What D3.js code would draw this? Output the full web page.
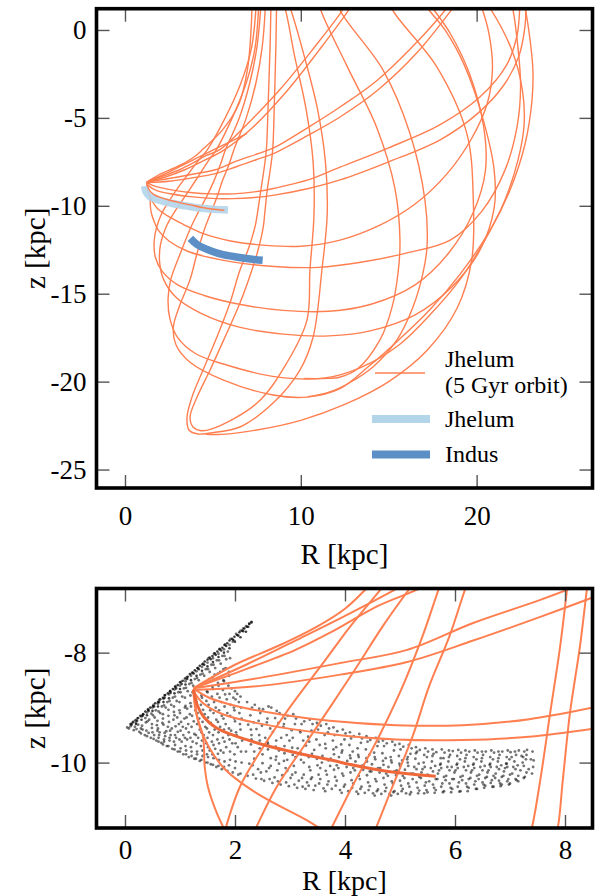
<!DOCTYPE html>
<html>
<head>
<meta charset="utf-8">
<script src="https://cdn.jsdelivr.net/npm/d3@7"></script>
<style>
  body { margin: 0; background: #fff; }
  text { font-family: "Liberation Serif", "Times New Roman", serif; }
</style>
</head>
<body>
<div id="chart"></div>
<script>
// ---- data (kpc) ----
var rTicksTop = [0, 10, 20];
var zTicksTop = [0, -5, -10, -15, -20, -25];
var rTicksZoom = [0, 2, 4, 6, 8];
var zTicksZoom = [-8, -10];

// orbit passes, [R, z]
var orbitTop = [
  [[1.24,-8.65],[2.0,-8.2],[2.8,-7.85],[3.5,-7.5],[4.0,-7.17],[4.42,-6.79],[5.56,-5.67],[6.5,-4.15],[6.98,-2.16],[7.17,0],[7.22,1.25],[7.24,2.0]],
  [[1.24,-8.65],[2.2,-8.22],[3.2,-7.73],[4.1,-7.28],[5.0,-6.83],[6.0,-6.35],[6.94,-5.88]],
  [[1.24,-8.65],[2.2,-8.3],[3.1,-7.95],[3.8,-7.6],[4.6,-7.15],[5.42,-6.79],[7.0,-5.3],[8.8,-3.4],[10.6,-1.2],[12.45,1.25],[12.8,2.0]],
  [[1.24,-8.65],[2.3,-8.36],[3.4,-7.95],[4.5,-7.42],[5.6,-6.85],[7.2,-5.6],[9.1,-3.6],[11.0,-1.2],[12.8,1.25],[13.2,2.0]],
  [[1.24,-8.65],[2.5,-8.45],[3.91,-8.19],[5.13,-7.95],[6.33,-7.46],[7.55,-7.04],[8.51,-6.68],[10.4,-5.55],[12.23,-4.38],[14.3,-2.9],[16.4,-0.9],[18.3,1.25],[18.8,2.0]],
  [[1.26,-8.68],[2.5,-8.6],[3.91,-8.4],[5.13,-8.17],[6.33,-7.78],[7.55,-7.35],[8.51,-7.0],[10.4,-6.0],[12.23,-4.95],[14.4,-3.4],[16.6,-1.3],[18.65,1.25],[19.2,2.0]],
  [[1.24,-8.65],[1.53,-8.82],[2.02,-8.97],[2.81,-9.12],[3.72,-9.24],[4.93,-9.32],[6.14,-9.32],[7.35,-9.21],[8.5,-9.0],[10.5,-8.5],[12.23,-7.8],[15.0,-6.7],[17.9,-5.4],[20.2,-3.8],[21.7,-2.0],[22.3,-0.3],[22.45,1.25],[22.45,2.0]],
  [[1.26,-8.72],[1.41,-8.91],[1.78,-9.12],[2.5,-9.3],[3.72,-9.48],[4.93,-9.58],[6.14,-9.59],[7.35,-9.53],[8.5,-9.39],[10.5,-9.0],[12.23,-8.53],[15.0,-7.5],[17.9,-6.26],[20.0,-4.8],[21.5,-3.2],[22.4,-1.5],[22.75,0.2],[22.8,1.25],[22.75,2.0]],
  [[1.26,-8.7],[1.36,-9.35],[1.78,-10.08],[2.4,-10.56],[3.31,-11.05],[4.5,-11.6],[6.0,-12.0],[8.0,-12.25],[10.0,-12.3],[12.23,-11.95],[14.5,-11.1],[16.5,-9.9],[18.3,-8.2],[19.7,-6.2],[20.6,-4.2],[20.9,-2.2],[20.7,-0.2],[20.3,1.25],[20.0,2.0]],
  [[1.24,-8.68],[1.29,-9.09],[1.42,-9.54],[1.45,-10.08],[1.51,-10.45],[1.67,-10.92],[1.9,-11.4],[2.5,-12.0],[3.6,-12.6],[5.93,-13.16],[8.5,-13.45],[11.0,-13.5],[13.5,-13.2],[16.04,-12.68],[18.5,-11.95],[20.3,-10.3],[21.6,-8.0],[22.3,-5.5],[22.5,-3.2],[22.35,-1.0],[22.05,1.25],[21.85,2.0]],
  [[7.47,2.0],[7.45,1.25],[7.2,-1.0],[6.6,-3.0],[5.7,-5.0],[4.69,-6.8],[4.09,-7.53],[3.6,-8.19],[3.0,-8.99],[2.51,-9.72],[2.09,-10.44],[1.8,-11.22],[1.66,-12.0],[1.72,-12.9],[2.1,-13.7],[3.0,-14.5],[4.5,-15.1],[6.5,-15.6],[9.0,-15.95],[11.6,-16.0],[14.0,-15.6],[16.5,-14.5],[18.4,-12.7],[19.8,-10.4],[20.5,-8.0],[20.4,-5.5],[19.6,-2.5],[18.5,-0.2],[17.5,1.25],[17.0,2.0]],
  [[7.62,2.0],[7.6,1.25],[7.4,-1.0],[6.9,-3.0],[6.1,-5.0],[5.2,-6.8],[4.7,-7.5],[4.2,-8.28],[3.73,-8.99],[3.24,-9.72],[2.76,-10.44],[2.33,-11.22],[2.02,-12.2],[1.97,-13.2],[2.2,-14.2],[2.9,-15.2],[4.3,-16.1],[6.5,-16.9],[9.0,-17.3],[11.6,-17.4],[14.0,-17.1],[16.5,-16.2],[18.6,-14.6],[20.2,-12.5],[21.0,-10.1],[21.0,-8.0],[20.4,-5.2],[19.3,-2.0],[18.2,0],[17.2,1.25],[16.7,2.0]],
  [[7.75,2.0],[7.72,1.25],[7.5,-1.0],[7.1,-3.0],[6.5,-5.0],[5.72,-6.8],[5.41,-7.7],[5.05,-8.61],[4.62,-9.52],[4.14,-10.42],[3.75,-11.22],[3.15,-12.7],[2.6,-14.2],[2.45,-15.3],[2.55,-16.4],[3.0,-17.5],[4.0,-18.4],[5.6,-19.0],[8.4,-19.7],[11.3,-19.8],[13.4,-19.2],[15.6,-17.9],[17.35,-16.2],[19.05,-14.2],[20.5,-11.9],[21.6,-9.7],[22.35,-7.4],[22.7,-5.4],[22.6,-3.4],[22.0,-1.14],[20.76,1.25],[20.2,2.0]],
  [[8.0,2.0],[7.98,1.25],[7.8,-1.0],[7.45,-3.0],[6.9,-5.0],[6.2,-6.8],[5.9,-7.7],[5.53,-8.61],[5.23,-9.52],[4.87,-10.42],[4.56,-11.22],[4.1,-12.7],[3.7,-14.2],[3.1,-15.7],[2.75,-16.9],[2.9,-17.9],[3.7,-18.9],[5.57,-19.9],[8.42,-20.76],[10.35,-20.88],[12.23,-20.4],[13.9,-19.1],[15.6,-17.6],[17.35,-15.9],[19.05,-13.9],[20.76,-11.4],[21.9,-9.1],[22.75,-6.5],[23.15,-3.98],[23.2,-2.28],[23.04,-0.57],[22.75,1.25],[22.5,2.0]],
  [[8.3,2.0],[8.3,1.25],[8.25,-1.0],[8.15,-4.0],[8.04,-6.83],[7.91,-7.9],[7.73,-9.1],[7.55,-10.32],[7.4,-11.17],[7.0,-12.5],[6.54,-13.65],[5.97,-15.53],[5.23,-17.46],[4.44,-19.34],[3.81,-20.88],[3.53,-22.01],[3.64,-22.75],[4.15,-22.98],[4.84,-22.92],[6.54,-22.58],[8.42,-21.22],[9.95,-19.34],[10.7,-17.46],[11.2,-13.65],[11.5,-10.5],[11.4,-7.5],[10.95,-4.5],[10.2,-1.5],[9.4,1.25],[9.1,2.0]],
  [[8.62,2.0],[8.62,1.25],[8.58,-1.0],[8.5,-4.0],[8.4,-6.83],[8.27,-7.9],[8.09,-9.1],[7.96,-10.32],[7.87,-11.17],[7.6,-12.4],[7.22,-13.65],[6.54,-15.53],[5.69,-17.46],[4.84,-19.34],[4.1,-20.88],[3.7,-22.01],[3.87,-22.58],[4.27,-22.78],[4.9,-22.7],[7.51,-21.22],[9.2,-18.94],[10.35,-16.5],[10.52,-13.65],[10.75,-10.5],[10.7,-7.5],[10.3,-4.5],[9.65,-1.5],[9.1,1.25],[8.8,2.0]],
  [[11.0,2.0],[11.1,1.25],[12.6,-2.0],[14.3,-5.5],[15.35,-9.0],[15.64,-11.95],[15.53,-13.82],[15.19,-15.76],[14.5,-17.63],[13.2,-19.3],[12.2,-19.75],[11.3,-19.82],[10.2,-19.82]],
  [[12.05,2.0],[12.23,1.14],[14.68,-2.28],[16.2,-5.86],[17.06,-9.67],[17.18,-12.3],[16.95,-13.82],[16.38,-15.76],[15.47,-17.63],[14.1,-19.17],[12.8,-20.05],[11.6,-20.6],[10.4,-20.86]],
  [[15.0,2.0],[15.17,1.23],[17.73,-2.09],[19.44,-5.88],[19.81,-9.67],[19.72,-13.08],[18.9,-15.8],[17.2,-18.2],[15.0,-20.0],[12.5,-21.3],[10.0,-22.2],[7.5,-22.75],[5.5,-23.0],[4.6,-23.0]]
];

// orbit passes
var orbitZoom = [
  [[1.24,-8.65],[1.53,-8.82],[2.02,-8.97],[2.81,-9.12],[3.72,-9.24],[4.93,-9.32],[6.14,-9.32],[7.35,-9.21],[8.6,-8.98]],
  [[1.26,-8.72],[1.41,-8.91],[1.78,-9.12],[2.5,-9.3],[3.72,-9.48],[4.93,-9.58],[6.14,-9.59],[7.35,-9.53],[8.6,-9.37]],
  [[1.24,-8.65],[2.0,-8.22],[2.8,-7.87],[3.5,-7.52],[4.0,-7.2],[4.42,-6.8],[4.6,-6.6]],
  [[1.24,-8.65],[2.2,-8.22],[3.2,-7.73],[4.1,-7.28],[5.0,-6.8],[5.3,-6.6]],
  [[1.24,-8.65],[2.2,-8.3],[3.1,-7.95],[3.8,-7.6],[4.6,-7.15],[5.42,-6.8],[5.7,-6.6]],
  [[1.24,-8.65],[2.5,-8.45],[3.91,-8.19],[5.13,-7.95],[6.33,-7.46],[7.55,-7.04],[8.6,-6.64]],
  [[1.26,-8.68],[2.5,-8.6],[3.91,-8.4],[5.13,-8.17],[6.33,-7.78],[7.55,-7.35],[8.6,-6.96]],
  [[1.26,-8.7],[1.36,-9.35],[1.78,-10.08],[2.4,-10.56],[3.31,-11.05],[3.7,-11.3]],
  [[1.24,-8.68],[1.29,-9.09],[1.42,-9.54],[1.45,-10.08],[1.51,-10.45],[1.67,-10.92],[1.85,-11.3]],
  [[1.8,-11.3],[2.09,-10.44],[2.51,-9.72],[3.0,-8.99],[3.6,-8.19],[4.09,-7.53],[4.69,-6.8],[4.85,-6.6]],
  [[2.33,-11.3],[2.76,-10.44],[3.24,-9.72],[3.73,-8.99],[4.2,-8.28],[4.7,-7.5],[5.2,-6.8],[5.35,-6.6]],
  [[3.7,-11.3],[4.14,-10.42],[4.62,-9.52],[5.05,-8.61],[5.41,-7.7],[5.72,-6.8],[5.8,-6.6]],
  [[4.52,-11.3],[4.87,-10.42],[5.23,-9.52],[5.53,-8.61],[5.9,-7.7],[6.2,-6.8],[6.28,-6.6]],
  [[8.07,-6.6],[8.04,-6.83],[7.91,-7.9],[7.73,-9.1],[7.55,-10.32],[7.4,-11.17],[7.35,-11.3]],
  [[8.43,-6.6],[8.4,-6.83],[8.27,-7.9],[8.09,-9.1],[7.96,-10.32],[7.87,-11.17],[7.82,-11.3]]
];

// most recent stretch of the orbit, lying along Jhelum
var presentOrbit = [[5.65,-10.25],[4.93,-10.18],[4.32,-10.08],[3.72,-9.95],[3.11,-9.82],[2.5,-9.67],[2.02,-9.52],[1.65,-9.36],[1.44,-9.18],[1.32,-8.97],[1.27,-8.79],[1.24,-8.67]];

var jhelumTrack = [[1.12,-8.88],[1.2,-9.22],[1.42,-9.48],[2.0,-9.7],[2.56,-9.84],[3.3,-9.98],[4.08,-10.11],[5.0,-10.2],[5.86,-10.24]];
var indusTrack = [[3.72,-11.85],[4.1,-12.2],[4.6,-12.45],[5.3,-12.7],[5.97,-12.85],[6.9,-13.0],[7.83,-13.1]];

var legendLabels = [["Jhelum", "(5 Gyr orbit)"], ["Jhelum"], ["Indus"]];

// simulated stream particles (lower panel): dense leading edge
var streamEdge = [
  [0.1,-9.3],[0.15,-9.26],[0.19,-9.23],[0.24,-9.19],[0.28,-9.15],[0.33,-9.12],[0.37,-9.07],[0.42,-9.04],[0.46,-9.0],[0.51,-8.97],
  [0.55,-8.92],[0.6,-8.9],[0.64,-8.85],[0.69,-8.82],[0.73,-8.77],[0.78,-8.74],[0.82,-8.7],[0.87,-8.66],[0.91,-8.62],[0.96,-8.59],
  [1.0,-8.54],[1.05,-8.51],[1.09,-8.47],[1.14,-8.44],[1.18,-8.39],[1.23,-8.36],[1.27,-8.32],[1.32,-8.28],[1.36,-8.24],[1.41,-8.21],
  [1.45,-8.16],[1.5,-8.13],[1.54,-8.09],[1.59,-8.06],[1.63,-8.01],[1.68,-7.98],[1.72,-7.94],[1.77,-7.91],[1.81,-7.86],[1.86,-7.83],
  [1.9,-7.78],[1.95,-7.75],[1.99,-7.71],[2.04,-7.68],[2.08,-7.63],[2.13,-7.6],[2.17,-7.56],[2.22,-7.53],[2.26,-7.48],[2.3,-7.45],
  [0.2,-9.3],[0.3,-9.22],[0.4,-9.14],[0.5,-9.06],[0.6,-8.98],[0.7,-8.9],[0.8,-8.83],[0.9,-8.74],[1.0,-8.66],[1.1,-8.58],
  [1.2,-8.5],[1.3,-8.42],[1.4,-8.33],[1.5,-8.25],[1.6,-8.17],[1.7,-8.08],[1.8,-8.0],[1.9,-7.92],[2.0,-7.8],[2.1,-7.72],[2.2,-7.62],
  [0.12,-9.31],[0.22,-9.24],[0.32,-9.15],[0.43,-9.06],[0.53,-8.98],[0.62,-8.9],[0.72,-8.82],[0.83,-8.73],[0.93,-8.65],[1.03,-8.57],
  [1.13,-8.48],[1.25,-8.38],[1.34,-8.3],[1.44,-8.22],[1.56,-8.12],[1.65,-8.04],[1.75,-7.96],[1.84,-7.88],[1.97,-7.77],[2.06,-7.69],[2.15,-7.61],[2.24,-7.53]
];
// simulated stream particles: body of the debris
var streamBody = [
  [0.04,-9.36],[0.07,-9.38],[0.13,-9.28],[0.16,-9.41],[0.18,-9.35],[0.22,-9.2],[0.26,-9.44],[0.24,-9.31],[0.29,-9.38],
  [0.33,-9.12],[0.36,-9.5],[0.38,-9.27],[0.32,-9.4],[0.37,-9.19],[0.42,-9.03],[0.47,-9.55],[0.44,-9.22],[0.49,-9.37],[0.43,-9.46],[0.48,-9.11],
  [0.52,-8.95],[0.57,-9.6],[0.54,-9.18],[0.58,-9.32],[0.53,-9.5],[0.56,-9.05],[0.59,-9.42],
  [0.62,-8.86],[0.66,-9.64],[0.64,-9.1],[0.68,-9.28],[0.63,-9.45],[0.67,-8.98],[0.61,-9.55],[0.69,-9.2],
  [0.72,-8.78],[0.76,-9.7],[0.74,-9.0],[0.78,-9.35],[0.73,-9.52],[0.77,-8.9],[0.71,-9.62],[0.79,-9.15],[0.75,-9.43],
  [0.82,-8.7],[0.86,-9.75],[0.84,-8.95],[0.88,-9.22],[0.83,-9.5],[0.87,-8.82],[0.81,-9.6],[0.89,-9.08],[0.85,-9.38],
  [0.92,-8.61],[0.96,-9.8],[0.94,-8.88],[0.98,-9.3],[0.93,-9.55],[0.97,-8.72],[0.91,-9.68],[0.99,-9.05],[0.95,-9.18],[0.96,-9.44],
  [1.02,-8.53],[1.06,-9.85],[1.04,-8.8],[1.08,-9.2],[1.03,-9.62],[1.07,-8.65],[1.01,-9.74],[1.09,-9.0],[1.05,-9.35],[1.06,-9.5],
  [1.12,-8.45],[1.16,-9.9],[1.14,-8.7],[1.18,-9.12],[1.13,-9.58],[1.17,-8.57],[1.11,-9.78],[1.19,-8.92],[1.15,-9.3],[1.16,-9.45],[1.13,-9.02],
  [1.22,-8.37],[1.26,-9.93],[1.24,-8.6],[1.28,-9.05],[1.23,-9.62],[1.27,-8.48],[1.21,-9.8],[1.29,-8.85],[1.25,-9.25],[1.26,-9.48],[1.23,-8.72],
  [1.32,-8.28],[1.36,-9.97],[1.34,-8.5],[1.38,-8.95],[1.33,-9.55],[1.37,-8.4],[1.31,-9.85],[1.39,-8.78],[1.35,-9.2],[1.36,-9.4],[1.33,-8.62],[1.38,-9.7],
  [1.42,-8.2],[1.46,-10.0],[1.44,-8.42],[1.48,-8.88],[1.43,-9.5],[1.47,-8.3],[1.41,-9.88],[1.49,-8.7],[1.45,-9.12],[1.46,-9.35],[1.43,-8.55],[1.48,-9.65],
  [1.52,-8.1],[1.56,-10.03],[1.54,-8.35],[1.58,-8.8],[1.53,-9.45],[1.57,-8.22],[1.51,-9.9],[1.59,-8.62],[1.55,-9.05],[1.56,-9.28],[1.53,-8.48],[1.58,-9.62],[1.54,-9.78],
  [1.62,-8.02],[1.66,-10.08],[1.64,-8.28],[1.68,-8.75],[1.63,-9.4],[1.67,-8.14],[1.61,-9.92],[1.69,-8.55],[1.65,-9.0],[1.66,-9.22],[1.63,-8.4],[1.68,-9.58],[1.64,-9.75],
  [1.72,-7.93],[1.76,-10.12],[1.74,-8.2],[1.78,-8.68],[1.73,-9.35],[1.77,-8.06],[1.71,-9.95],[1.79,-8.5],[1.75,-8.9],[1.76,-9.15],[1.73,-8.35],[1.78,-9.55],[1.74,-9.78],
  [1.82,-7.85],[1.86,-10.15],[1.84,-8.12],[1.88,-8.6],[1.83,-9.3],[1.87,-7.98],[1.81,-9.98],[1.89,-8.42],[1.85,-8.85],[1.86,-9.1],[1.83,-8.28],[1.88,-9.5],[1.84,-9.72],
  [1.92,-7.75],[1.96,-10.18],[1.94,-8.65],[1.98,-9.0],[1.93,-9.42],[1.97,-8.82],[1.91,-9.95],[1.99,-9.2],[1.95,-9.65],[1.96,-7.8],
  [2.02,-7.66],[2.06,-10.22],[2.04,-8.75],[2.08,-9.1],[2.03,-9.5],[2.07,-8.9],[2.01,-9.98],[2.09,-9.3],[2.05,-9.72],[2.1,-7.6],
  [2.15,-7.56],[2.2,-7.52],[2.26,-7.47],[2.3,-7.44],
  [0.1,-9.34],[0.2,-9.27],[0.21,-9.39],[0.3,-9.16],[0.31,-9.33],[0.29,-9.47],[0.4,-9.09],[0.41,-9.25],[0.39,-9.42],[0.4,-9.52],
  [0.5,-9.0],[0.51,-9.14],[0.49,-9.3],[0.5,-9.45],[0.52,-9.57],[0.6,-8.93],[0.61,-9.07],[0.59,-9.24],[0.6,-9.38],[0.62,-9.5],[0.61,-9.62],
  [0.7,-8.84],[0.71,-8.96],[0.69,-9.12],[0.7,-9.31],[0.72,-9.46],[0.71,-9.58],[0.69,-9.67],
  [0.8,-8.76],[0.81,-8.88],[0.79,-9.04],[0.8,-9.26],[0.82,-9.42],[0.81,-9.55],[0.79,-9.7],
  [0.9,-8.67],[0.91,-8.8],[0.89,-8.98],[0.9,-9.14],[0.92,-9.34],[0.91,-9.5],[0.89,-9.62],[0.9,-9.76],
  [1.0,-8.6],[1.01,-8.72],[0.99,-8.9],[1.0,-9.1],[1.02,-9.26],[1.01,-9.42],[0.99,-9.58],[1.0,-9.8],
  [1.1,-8.52],[1.11,-8.64],[1.09,-8.82],[1.1,-8.97],[1.12,-9.18],[1.11,-9.38],[1.09,-9.55],[1.1,-9.7],[1.11,-9.85],
  [1.2,-8.42],[1.21,-8.55],[1.19,-8.78],[1.2,-8.98],[1.22,-9.15],[1.21,-9.35],[1.19,-9.55],[1.2,-9.72],[1.21,-9.88],
  [1.3,-8.34],[1.31,-8.46],[1.29,-8.68],[1.3,-8.9],[1.32,-9.1],[1.31,-9.3],[1.29,-9.5],[1.3,-9.65],[1.31,-9.8],[1.29,-9.93],
  [1.4,-8.26],[1.41,-8.38],[1.39,-8.6],[1.4,-8.82],[1.42,-9.04],[1.41,-9.26],[1.39,-9.45],[1.4,-9.6],[1.41,-9.78],[1.39,-9.95],
  [1.5,-8.18],[1.51,-8.3],[1.49,-8.55],[1.5,-8.72],[1.52,-8.95],[1.51,-9.18],[1.49,-9.38],[1.5,-9.55],[1.51,-9.72],[1.49,-9.85],[1.5,-10.0],
  [1.6,-8.1],[1.61,-8.22],[1.59,-8.45],[1.6,-8.66],[1.62,-8.9],[1.61,-9.1],[1.59,-9.32],[1.6,-9.5],[1.61,-9.68],[1.59,-9.85],[1.6,-10.04],
  [1.7,-8.02],[1.71,-8.14],[1.69,-8.38],[1.7,-8.6],[1.72,-8.82],[1.71,-9.05],[1.69,-9.26],[1.7,-9.45],[1.71,-9.65],[1.69,-9.84],[1.7,-10.06],
  [1.8,-7.94],[1.81,-8.06],[1.79,-8.3],[1.8,-8.52],[1.82,-8.76],[1.81,-8.98],[1.79,-9.2],[1.8,-9.4],[1.81,-9.62],[1.79,-9.82],[1.8,-10.08],
  [1.9,-7.86],[1.91,-8.1],[1.89,-8.35],[1.9,-8.75],[1.92,-8.95],[1.91,-9.15],[1.89,-9.38],[1.9,-9.58],[1.91,-9.8],[1.89,-10.05],
  [2.0,-8.7],[2.01,-8.85],[1.99,-9.05],[2.0,-9.25],[2.02,-9.45],[2.01,-9.65],[1.99,-9.85],[2.0,-10.1],
  [2.1,-8.8],[2.11,-9.0],[2.12,-9.2],[2.1,-9.4],[2.13,-9.6],[2.11,-9.8],[2.12,-10.0],[2.1,-10.2],
  [2.22,-8.9],[2.28,-9.14],[2.24,-9.31],[2.3,-9.58],[2.2,-9.8],[2.26,-10.02],[2.23,-10.24],[2.29,-9.67],
  [2.36,-8.95],[2.43,-9.24],[2.39,-9.39],[2.45,-9.74],[2.35,-9.93],[2.42,-10.12],[2.38,-10.29],[2.44,-9.02],
  [2.51,-9.03],[2.58,-9.27],[2.55,-9.55],[2.6,-9.76],[2.5,-10.01],[2.57,-10.16],[2.53,-10.33],[2.59,-9.63],
  [2.66,-9.0],[2.73,-9.19],[2.69,-9.44],[2.75,-9.89],[2.65,-10.06],[2.72,-10.27],[2.68,-10.37],[2.74,-9.71],
  [2.81,-9.1],[2.88,-9.35],[2.84,-9.55],[2.9,-9.83],[2.8,-10.02],[2.86,-10.23],[2.83,-10.4],[2.89,-9.97],
  [2.96,-9.15],[3.03,-9.41],[2.99,-9.6],[3.05,-9.86],[2.95,-10.15],[3.01,-10.28],[2.98,-10.43],[3.04,-9.73],
  [3.11,-9.2],[3.18,-9.42],[3.14,-9.74],[3.2,-9.95],[3.1,-10.18],[3.16,-10.33],[3.13,-10.46],[3.19,-9.82],
  [3.26,-9.25],[3.33,-9.53],[3.29,-9.69],[3.35,-10.08],[3.25,-10.22],[3.31,-10.36],[3.28,-10.48],[3.34,-9.9],
  [3.41,-9.3],[3.48,-9.58],[3.44,-9.77],[3.5,-10.05],[3.4,-10.27],[3.46,-10.42],[3.43,-10.5],[3.49,-9.93],
  [3.56,-9.33],[3.63,-9.5],[3.59,-9.88],[3.65,-10.15],[3.55,-10.3],[3.61,-10.47],[3.58,-10.0],[3.64,-9.66],
  [3.71,-9.38],[3.78,-9.6],[3.74,-9.93],[3.8,-10.13],[3.7,-10.34],[3.76,-10.48],[3.73,-10.06],[3.79,-9.76],
  [3.86,-9.43],[3.93,-9.67],[3.89,-9.9],[3.95,-10.2],[3.85,-10.33],[3.91,-10.5],[3.88,-10.1],[3.94,-9.82],
  [4.01,-9.47],[4.08,-9.68],[4.04,-9.97],[4.1,-10.18],[4.0,-10.4],[4.06,-10.52],[4.03,-10.08],[4.09,-9.87],
  [4.16,-9.52],[4.23,-9.74],[4.19,-9.98],[4.25,-10.24],[4.15,-10.38],[4.21,-10.53],[4.18,-10.14],[4.24,-9.86],
  [4.31,-9.56],[4.38,-9.76],[4.34,-10.04],[4.4,-10.23],[4.3,-10.44],[4.36,-10.55],[4.33,-10.13],[4.39,-9.92],
  [4.46,-9.59],[4.53,-9.82],[4.49,-10.03],[4.55,-10.3],[4.45,-10.43],[4.51,-10.56],[4.48,-10.16],[4.54,-9.9],
  [4.61,-9.62],[4.68,-9.83],[4.64,-10.1],[4.7,-10.28],[4.6,-10.49],[4.66,-10.57],[4.63,-10.18],[4.69,-9.97],
  [4.76,-9.65],[4.83,-9.9],[4.79,-10.08],[4.85,-10.34],[4.75,-10.46],[4.81,-10.57],[4.78,-10.24],[4.84,-9.96],
  [4.91,-9.68],[4.98,-9.88],[4.94,-10.14],[5.0,-10.33],[4.9,-10.52],[4.96,-10.57],[4.93,-10.23],[4.99,-10.02],
  [5.06,-9.71],[5.13,-9.94],[5.09,-10.13],[5.15,-10.38],[5.05,-10.48],[5.11,-10.56],[5.08,-10.28],[5.14,-10.0],
  [5.21,-9.74],[5.28,-9.93],[5.24,-10.2],[5.3,-10.36],[5.2,-10.54],[5.26,-10.08],[5.23,-10.3],[5.29,-9.83],
  [5.36,-9.77],[5.43,-10.0],[5.39,-10.18],[5.45,-10.42],[5.35,-10.51],[5.41,-10.12],[5.38,-10.28],[5.44,-9.86],
  [5.51,-9.8],[5.58,-9.98],[5.54,-10.24],[5.6,-10.4],[5.5,-10.54],[5.56,-10.1],[5.53,-10.34],[5.59,-9.88],
  [5.66,-9.81],[5.73,-10.04],[5.69,-10.2],[5.75,-10.44],[5.65,-10.5],[5.71,-10.14],[5.68,-10.3],[5.74,-9.92],
  [5.81,-9.82],[5.88,-9.98],[5.84,-10.24],[5.9,-10.38],[5.8,-10.52],[5.86,-10.08],[5.83,-10.32],[5.89,-9.9],
  [5.96,-9.79],[6.03,-10.04],[5.99,-10.18],[6.05,-10.44],[5.95,-10.48],[6.01,-10.14],[5.98,-10.3],[6.04,-9.88],
  [6.11,-9.82],[6.18,-9.98],[6.14,-10.24],[6.2,-10.38],[6.1,-10.52],[6.16,-10.08],[6.13,-10.32],[6.19,-9.92],
  [6.26,-9.8],[6.33,-10.04],[6.29,-10.18],[6.35,-10.4],[6.25,-10.46],[6.31,-10.14],[6.28,-10.28],[6.34,-9.9],
  [6.41,-9.82],[6.48,-9.98],[6.44,-10.22],[6.5,-10.36],[6.4,-10.48],[6.46,-10.08],[6.43,-10.3],[6.49,-9.92],
  [6.56,-9.8],[6.63,-10.04],[6.59,-10.18],[6.65,-10.37],[6.55,-10.42],[6.61,-10.14],[6.58,-10.26],[6.64,-9.9],
  [6.71,-9.82],[6.78,-9.98],[6.74,-10.2],[6.8,-10.33],[6.7,-10.44],[6.76,-10.08],[6.73,-10.28],[6.79,-9.92],
  [6.86,-9.8],[6.93,-10.02],[6.89,-10.16],[6.95,-10.34],[6.85,-10.4],[6.91,-10.1],[6.88,-10.24],[6.94,-9.9],
  [7.01,-9.81],[7.08,-9.98],[7.04,-10.2],[7.1,-10.3],[7.0,-10.38],[7.06,-10.08],[7.03,-9.9],
  [7.16,-9.78],[7.23,-10.0],[7.19,-10.14],[7.25,-10.28],[7.15,-10.34],[7.21,-9.88],
  [7.31,-9.77],[7.38,-9.94],[7.34,-10.12],[7.4,-10.2],[7.3,-9.86],
  [2.31,-9.0],[2.34,-9.27],[2.3,-9.5],[2.35,-9.8],[2.32,-10.05],[2.33,-10.22],[2.29,-9.4],
  [2.46,-9.1],[2.49,-9.33],[2.45,-9.6],[2.5,-9.85],[2.47,-10.18],[2.48,-10.3],[2.44,-9.5],
  [2.61,-8.98],[2.64,-9.38],[2.6,-9.66],[2.65,-9.92],[2.62,-10.1],[2.63,-10.3],[2.59,-9.2],
  [2.76,-9.06],[2.79,-9.28],[2.75,-9.6],[2.8,-9.78],[2.77,-10.14],[2.78,-10.34],[2.74,-9.95],
  [2.91,-9.2],[2.94,-9.5],[2.9,-9.7],[2.95,-9.95],[2.92,-10.1],[2.93,-10.36],[2.89,-9.3],
  [3.06,-9.12],[3.09,-9.3],[3.05,-9.55],[3.1,-9.9],[3.07,-10.06],[3.08,-10.4],[3.04,-10.22],
  [3.21,-9.3],[3.24,-9.6],[3.2,-9.85],[3.25,-10.0],[3.22,-10.28],[3.23,-10.44],[3.19,-9.45],
  [3.36,-9.22],[3.39,-9.42],[3.35,-9.62],[3.4,-9.84],[3.37,-10.14],[3.38,-10.3],[3.34,-10.42],
  [3.51,-9.4],[3.54,-9.68],[3.5,-9.9],[3.55,-10.1],[3.52,-10.22],[3.53,-10.38],[3.49,-9.28],
  [3.66,-9.3],[3.69,-9.45],[3.65,-9.74],[3.7,-9.96],[3.67,-10.22],[3.68,-10.4],[3.64,-10.52],
  [3.81,-9.5],[3.84,-9.72],[3.8,-9.85],[3.85,-10.05],[3.82,-10.26],[3.83,-10.42],[3.79,-9.36],
  [3.96,-9.4],[3.99,-9.58],[3.95,-9.78],[4.0,-10.02],[3.97,-10.24],[3.98,-10.44],[3.94,-10.55],
  [4.11,-9.56],[4.14,-9.8],[4.1,-9.92],[4.15,-10.1],[4.12,-10.32],[4.13,-10.46],[4.09,-9.45],
  [4.26,-9.48],[4.29,-9.64],[4.25,-9.9],[4.3,-10.06],[4.27,-10.3],[4.28,-10.48],[4.24,-10.57],
  [4.41,-9.62],[4.44,-9.86],[4.4,-9.98],[4.45,-10.16],[4.42,-10.36],[4.43,-10.5],[4.39,-9.52],
  [4.56,-9.55],[4.59,-9.7],[4.55,-9.94],[4.6,-10.1],[4.57,-10.34],[4.58,-10.52],[4.54,-10.6],
  [4.71,-9.7],[4.74,-9.92],[4.7,-10.04],[4.75,-10.2],[4.72,-10.4],[4.73,-10.52],[4.69,-9.6],
  [4.86,-9.62],[4.89,-9.78],[4.85,-10.0],[4.9,-10.16],[4.87,-10.38],[4.88,-10.54],[4.84,-10.6],
  [5.01,-9.76],[5.04,-9.96],[5.0,-10.06],[5.05,-10.24],[5.02,-10.42],[5.03,-10.52],[4.99,-9.66],
  [5.16,-9.68],[5.19,-9.84],[5.15,-10.06],[5.2,-10.2],[5.17,-10.44],[5.18,-10.58],[5.14,-9.9],
  [5.31,-9.8],[5.34,-10.02],[5.3,-10.12],[5.35,-10.26],[5.32,-10.46],[5.33,-10.56],[5.29,-9.72],
  [5.46,-9.74],[5.49,-9.9],[5.45,-10.08],[5.5,-10.22],[5.47,-10.36],[5.48,-10.5],[5.44,-10.56],
  [5.61,-9.84],[5.64,-10.06],[5.6,-10.16],[5.65,-10.3],[5.62,-10.46],[5.63,-10.55],[5.59,-9.76],
  [5.76,-9.76],[5.79,-9.92],[5.75,-10.1],[5.8,-10.26],[5.77,-10.38],[5.78,-10.54],[5.74,-10.02],
  [5.91,-9.86],[5.94,-10.08],[5.9,-10.14],[5.95,-10.3],[5.92,-10.46],[5.93,-10.54],[5.89,-9.78],
  [6.06,-9.77],[6.09,-9.94],[6.05,-10.1],[6.1,-10.26],[6.07,-10.36],[6.08,-10.53],[6.04,-10.02],
  [6.21,-9.86],[6.24,-10.06],[6.2,-10.14],[6.25,-10.3],[6.22,-10.44],[6.23,-10.52],[6.19,-9.78],
  [6.36,-9.78],[6.39,-9.94],[6.35,-10.1],[6.4,-10.24],[6.37,-10.34],[6.38,-10.48],[6.34,-10.02],
  [6.51,-9.86],[6.54,-10.06],[6.5,-10.14],[6.55,-10.28],[6.52,-10.4],[6.53,-10.46],[6.49,-9.8],
  [6.66,-9.78],[6.69,-9.94],[6.65,-10.08],[6.7,-10.24],[6.67,-10.32],[6.68,-10.44],[6.64,-10.02],
  [6.81,-9.86],[6.84,-10.05],[6.8,-10.12],[6.85,-10.26],[6.82,-10.38],[6.83,-10.43],[6.79,-9.8],
  [6.96,-9.78],[6.99,-9.94],[6.95,-10.08],[7.0,-10.22],[6.97,-10.3],[6.98,-10.4],[6.94,-10.02],
  [7.11,-9.86],[7.14,-10.05],[7.1,-10.12],[7.15,-10.24],[7.12,-10.32],[7.09,-9.8],
  [7.26,-9.8],[7.29,-9.94],[7.25,-10.06],[7.3,-10.18],[7.27,-10.26],[7.24,-9.9],
  [7.41,-9.8],[7.43,-9.96],[7.42,-10.08]
];

// ---- drawing ----
var svg = d3.select("#chart").append("svg")
  .attr("width", 612)
  .attr("height", 896);

var orange = "#ff7f50";
var serif = "Liberation Serif, Times New Roman, serif";

function makePanel(cfg) {
  var x = d3.scaleLinear().domain(cfg.xDomain).range([cfg.left, cfg.right]);
  var y = d3.scaleLinear().domain(cfg.yDomain).range([cfg.top, cfg.bottom]);

  svg.append("clipPath").attr("id", cfg.id)
    .append("rect")
    .attr("x", cfg.left).attr("y", cfg.top)
    .attr("width", cfg.right - cfg.left).attr("height", cfg.bottom - cfg.top);

  var plot = svg.append("g").attr("clip-path", "url(#" + cfg.id + ")");
  var axes = svg.append("g");
  var fmt = function(d) { return String(d); };

  axes.append("g").attr("transform", "translate(0," + cfg.bottom + ")")
    .call(d3.axisBottom(x).tickValues(cfg.xTicks).tickSize(-13).tickPadding(cfg.xPad).tickFormat(fmt));
  axes.append("g").attr("transform", "translate(0," + cfg.top + ")")
    .call(d3.axisTop(x).tickValues(cfg.xTicks).tickSize(-13).tickFormat(""));
  axes.append("g").attr("transform", "translate(" + cfg.left + ",0)")
    .call(d3.axisLeft(y).tickValues(cfg.yTicks).tickSize(-13).tickPadding(10).tickFormat(fmt));
  axes.append("g").attr("transform", "translate(" + cfg.right + ",0)")
    .call(d3.axisRight(y).tickValues(cfg.yTicks).tickSize(-13).tickFormat(""));

  axes.selectAll(".domain").remove();
  axes.selectAll(".tick line").attr("stroke", "#555").attr("stroke-width", 1.4);
  axes.selectAll(".tick text")
    .attr("font-family", serif).attr("font-size", 27).attr("fill", "#000");

  // axis titles
  svg.append("text")
    .attr("x", (cfg.left + cfg.right) / 2).attr("y", cfg.xLabelY)
    .attr("text-anchor", "middle")
    .attr("font-family", serif).attr("font-size", cfg.labelSize)
    .text("R [kpc]");
  svg.append("text")
    .attr("transform", "translate(45," + ((cfg.top + cfg.bottom) / 2) + ") rotate(-90)")
    .attr("text-anchor", "middle")
    .attr("font-family", serif).attr("font-size", 29)
    .text("z [kpc]");

  var line = d3.line()
    .x(function(d) { return x(d[0]); })
    .y(function(d) { return y(d[1]); })
    .curve(d3.curveCatmullRom.alpha(0.5));

  return { x: x, y: y, plot: plot, line: line, cfg: cfg };
}

function drawFrame(p) {
  var c = p.cfg;
  svg.append("rect")
    .attr("x", c.left).attr("y", c.top)
    .attr("width", c.right - c.left).attr("height", c.bottom - c.top)
    .attr("fill", "none").attr("stroke", "#000").attr("stroke-width", 3.6);
}

// upper panel
var upper = makePanel({
  id: "clip-upper", left: 96.5, right: 592.5, top: 8.7, bottom: 488,
  xDomain: [-1.62, 26.59], yDomain: [1.21, -26.05],
  xTicks: rTicksTop, yTicks: zTicksTop, xPad: 18, xLabelY: 564, labelSize: 29
});

upper.plot.selectAll(".orbit").data(orbitTop).enter()
  .append("path").attr("class", "orbit")
  .attr("d", upper.line)
  .attr("fill", "none").attr("stroke", orange).attr("stroke-width", 1.4);

upper.plot.append("path").datum(jhelumTrack)
  .attr("d", upper.line)
  .attr("fill", "none").attr("stroke", "#b3d5ea").attr("stroke-width", 7.5)
  .attr("stroke-linecap", "butt").attr("stroke-linejoin", "round").attr("opacity", 0.9);

upper.plot.append("path").datum(indusTrack)
  .attr("d", upper.line)
  .attr("fill", "none").attr("stroke", "#5b8fc6").attr("stroke-width", 7.5)
  .attr("stroke-linecap", "butt");

upper.plot.append("path").datum(presentOrbit)
  .attr("d", upper.line)
  .attr("fill", "none").attr("stroke", orange).attr("stroke-width", 1.4);

drawFrame(upper);

// legend
var legend = svg.append("g");
legend.append("line").attr("x1", 375).attr("x2", 425).attr("y1", 373).attr("y2", 373)
  .attr("stroke", orange).attr("stroke-width", 1.4);
legend.append("line").attr("x1", 372).attr("x2", 430).attr("y1", 419).attr("y2", 419)
  .attr("stroke", "#b3d5ea").attr("stroke-width", 8);
legend.append("line").attr("x1", 372).attr("x2", 430).attr("y1", 454.5).attr("y2", 454.5)
  .attr("stroke", "#5b8fc6").attr("stroke-width", 8);
var legendY = [[367, 393], [427], [462]];
legendLabels.forEach(function(lines, i) {
  lines.forEach(function(s, j) {
    legend.append("text")
      .attr("x", 445).attr("y", legendY[i][j])
      .attr("font-family", serif).attr("font-size", 24)
      .text(s);
  });
});

// lower panel
var lower = makePanel({
  id: "clip-lower", left: 96.5, right: 592.5, top: 588.5, bottom: 828,
  xDomain: [-0.518, 8.5], yDomain: [-6.833, -11.19],
  xTicks: rTicksZoom, yTicks: zTicksZoom, xPad: 12, xLabelY: 890, labelSize: 28
});

lower.plot.selectAll(".pt").data(streamBody).enter()
  .append("circle").attr("class", "pt")
  .attr("cx", function(d) { return lower.x(d[0]); })
  .attr("cy", function(d) { return lower.y(d[1]); })
  .attr("r", 1.4).attr("fill", "#000").attr("opacity", 0.55);

lower.plot.selectAll(".edge").data(streamEdge).enter()
  .append("circle").attr("class", "edge")
  .attr("cx", function(d) { return lower.x(d[0]); })
  .attr("cy", function(d) { return lower.y(d[1]); })
  .attr("r", 1.3).attr("fill", "#000").attr("opacity", 0.75);

lower.plot.selectAll(".orbit").data(orbitZoom).enter()
  .append("path").attr("class", "orbit")
  .attr("d", lower.line)
  .attr("fill", "none").attr("stroke", orange).attr("stroke-width", 2);

lower.plot.append("path").datum(presentOrbit)
  .attr("d", lower.line)
  .attr("fill", "none").attr("stroke", "#f0683a").attr("stroke-width", 3);

drawFrame(lower);
</script>
</body>
</html>
